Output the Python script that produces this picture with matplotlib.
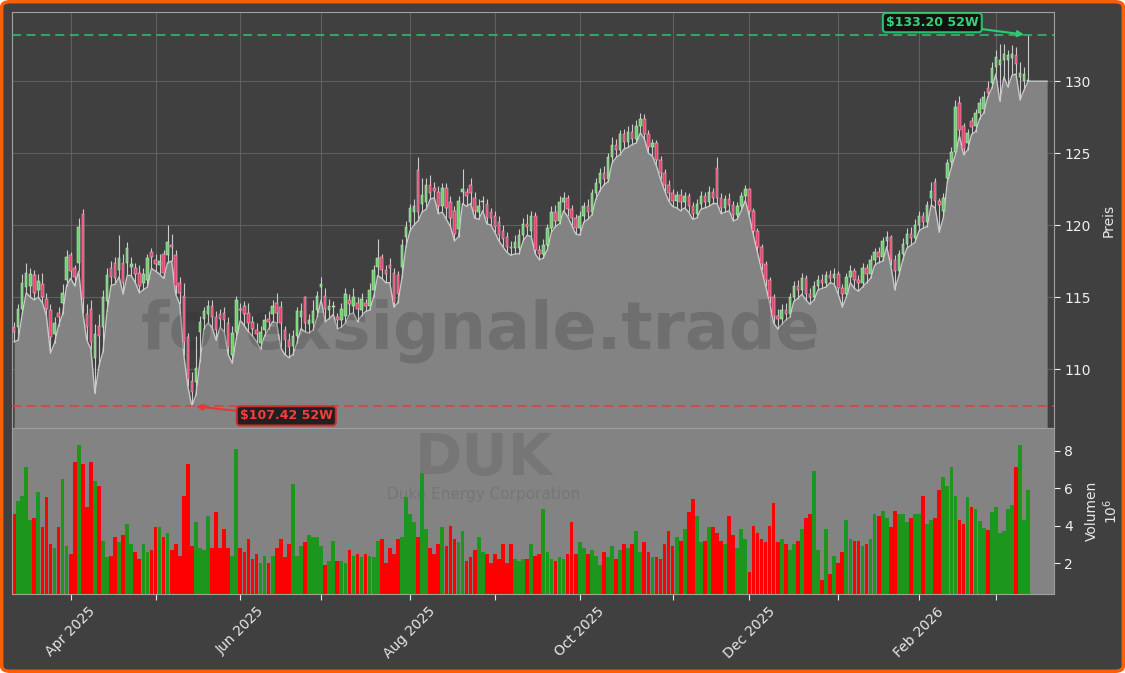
import numpy as np
import pandas as pd
import matplotlib
matplotlib.use('Agg')
import matplotlib.pyplot as plt
from matplotlib.patches import FancyBboxPatch

# daily OHLC (USD) and volume (millions), DUK, 52 weeks
opens = [
    112.9, 112.9, 114.2, 115.7, 115.8, 116.5, 115.5, 115.9, 114.9, 114.1,
    112.4, 113.9, 114.6, 116.2, 117.9, 117.0, 117.4, 120.8, 113.8, 114.2,
    110.8, 113.0, 112.9, 114.7, 117.0, 117.4, 116.9, 117.4, 117.4, 117.1,
    117.0, 116.7, 116.0, 116.2, 118.1, 117.6, 117.2, 118.0, 117.9, 118.6,
    117.9, 116.0, 115.1, 112.2, 109.2, 109.1, 112.6, 113.5, 113.8, 114.4,
    113.6, 113.8, 113.9, 113.2, 111.0, 112.6, 114.2, 114.4, 113.9, 113.3,
    112.7, 111.8, 112.7, 113.5, 113.8, 114.6, 114.3, 112.7, 112.0, 111.6,
    112.3, 113.6, 115.0, 113.1, 113.2, 114.1, 115.7, 115.1, 114.1, 114.3,
    113.6, 113.4, 113.7, 114.8, 114.4, 114.6, 114.1, 114.6, 114.4, 115.5,
    117.1, 117.8, 116.9, 117.2, 116.7, 116.5, 117.1, 119.2, 120.2, 120.9,
    123.8, 121.5, 121.6, 122.8, 122.6, 122.3, 121.3, 122.6, 121.6, 121.0,
    119.7, 122.3, 122.3, 122.8, 121.9, 120.9, 121.6, 121.5, 120.9, 120.6,
    120.2, 119.6, 119.2, 118.5, 118.4, 118.4, 119.3, 120.1, 119.6, 120.6,
    118.3, 118.0, 118.6, 119.8, 120.9, 120.3, 121.6, 121.9, 121.1, 120.5,
    119.8, 120.6, 121.3, 120.9, 122.2, 122.9, 123.6, 123.2, 124.7, 125.6,
    125.2, 126.3, 125.8, 126.5, 126.0, 126.9, 127.4, 126.3, 125.4, 125.7,
    124.5, 123.6, 122.8, 122.2, 121.7, 122.1, 121.6, 122.0, 121.3, 120.8,
    121.5, 122.0, 121.6, 122.3, 124.0, 121.9, 121.2, 121.8, 121.4, 120.7,
    121.3, 122.0, 122.5, 121.0, 119.6, 118.5, 117.3, 116.2, 115.0, 113.7,
    113.5, 114.1, 113.8, 115.0, 115.8, 115.5, 116.3, 115.2, 115.0, 115.8,
    116.2, 116.0, 116.5, 116.3, 116.6, 115.6, 115.2, 116.4, 116.8, 116.2,
    116.0, 117.0, 116.6, 117.6, 118.1, 117.8, 118.9, 119.2, 117.6, 116.8,
    118.0, 118.7, 119.4, 119.1, 120.0, 120.6, 120.2, 121.9, 123.0, 121.7,
    121.0, 123.3, 124.4, 125.1, 128.5, 126.9, 125.7, 127.2, 126.9, 127.8,
    128.1, 129.5, 129.9, 131.0, 131.1, 131.5, 131.5, 131.6, 131.8, 130.3,
    130.0, 130.0]

highs = [
    113.3, 114.5, 116.6, 117.4, 117.0, 116.9, 116.6, 116.7, 115.3, 114.5,
    113.6, 114.3, 115.9, 118.3, 118.1, 117.2, 120.5, 121.1, 114.5, 114.8,
    113.1, 113.8, 115.5, 117.0, 117.5, 117.8, 119.3, 118.0, 118.8, 117.8,
    117.4, 117.2, 117.0, 118.0, 118.4, 118.0, 118.0, 118.3, 120.0, 119.4,
    118.3, 116.4, 116.0, 112.5, 109.8, 112.3, 113.7, 114.3, 114.8, 114.8,
    114.0, 114.2, 114.3, 113.6, 113.0, 115.1, 114.6, 114.7, 114.6, 113.7,
    113.2, 113.0, 113.8, 114.0, 114.8, 115.3, 114.7, 113.0, 112.5, 112.7,
    114.3, 114.6, 115.1, 113.8, 114.8, 115.4, 116.4, 115.6, 114.9, 114.7,
    113.9, 114.6, 115.6, 115.2, 115.6, 115.0, 115.3, 114.9, 116.0, 117.2,
    119.0, 118.0, 117.2, 117.7, 117.0, 116.8, 119.0, 120.3, 121.5, 121.8,
    124.7, 123.3, 123.3, 123.5, 123.0, 122.7, 122.9, 122.9, 122.0, 121.3,
    122.0, 123.9, 122.6, 123.3, 122.3, 121.8, 122.0, 121.8, 121.2, 121.0,
    120.6, 120.0, 119.5, 118.9, 119.3, 119.7, 120.5, 120.8, 121.0, 120.9,
    118.6, 119.0, 120.1, 121.3, 121.4, 122.0, 122.3, 122.1, 121.4, 120.8,
    121.0, 121.6, 121.8, 122.5, 123.3, 124.0, 124.1, 125.0, 126.1, 126.0,
    126.6, 126.7, 126.9, 127.0, 127.3, 127.8, 127.7, 126.6, 126.0, 125.9,
    124.8, 123.9, 123.1, 122.5, 122.4, 122.5, 122.3, 122.2, 121.6, 121.8,
    122.4, 122.3, 122.7, 122.6, 124.7, 122.2, 122.1, 122.2, 121.7, 121.6,
    122.3, 122.8, 122.6, 121.2, 119.8, 118.7, 117.5, 116.4, 115.2, 114.2,
    114.5, 114.6, 115.3, 116.1, 116.2, 116.7, 116.5, 115.6, 116.1, 116.5,
    116.6, 116.8, 116.9, 117.0, 116.8, 115.9, 116.7, 117.2, 117.0, 116.5,
    117.4, 117.3, 117.9, 118.4, 118.5, 119.2, 119.6, 119.3, 117.9, 118.3,
    119.1, 119.8, 119.9, 120.4, 121.0, 120.9, 121.7, 123.0, 123.3, 121.9,
    122.2, 124.6, 125.4, 128.7, 129.0, 127.1, 126.7, 127.5, 128.1, 128.8,
    129.3, 130.0, 131.3, 132.2, 132.6, 132.6, 132.2, 132.5, 132.4, 131.3,
    131.0, 133.2]

lows = [
    111.9, 112.0, 113.8, 115.3, 115.0, 114.8, 115.0, 114.6, 113.7, 111.1,
    111.8, 113.0, 113.8, 115.8, 116.3, 115.8, 116.8, 113.9, 112.0, 111.4,
    108.3, 110.2, 111.2, 114.0, 115.8, 115.9, 116.4, 115.2, 116.5, 116.5,
    116.0, 115.3, 115.5, 115.7, 117.0, 116.8, 116.6, 116.3, 117.4, 117.5,
    115.2, 114.5, 111.0, 108.8, 107.42, 108.2, 110.5, 112.8, 113.2, 112.9,
    112.0, 112.9, 112.6, 111.0, 110.4, 112.1, 113.4, 113.0, 112.6, 112.3,
    111.9, 111.4, 112.3, 112.8, 113.3, 113.2, 111.5, 111.0, 110.8, 111.0,
    111.8, 112.8, 112.6, 112.5, 112.7, 113.6, 114.8, 113.3, 113.5, 113.8,
    112.8, 112.9, 113.2, 113.8, 113.9, 113.3, 113.7, 114.0, 114.1, 115.0,
    116.5, 116.3, 116.0, 116.0, 114.3, 114.6, 116.3, 118.5, 119.6, 120.0,
    120.3, 120.9, 121.1, 121.8, 121.9, 120.8, 120.9, 120.4, 119.9, 118.9,
    119.2, 121.5, 121.3, 121.5, 120.5, 120.4, 121.0, 120.1, 120.0, 119.5,
    118.9, 118.5, 118.1, 117.9, 118.0, 118.0, 118.9, 119.3, 119.2, 118.0,
    117.6, 117.7, 118.3, 119.5, 119.9, 120.1, 121.0, 120.6, 120.0, 119.4,
    119.3, 120.2, 120.4, 120.7, 121.8, 122.4, 122.8, 123.0, 124.3, 124.7,
    124.9, 125.3, 125.4, 125.6, 125.7, 126.4, 126.0, 125.0, 124.8, 124.1,
    123.2, 122.4, 121.7, 121.3, 121.2, 121.0, 121.2, 120.9, 120.4, 120.5,
    121.1, 121.2, 121.3, 121.5, 121.5, 120.8, 120.9, 121.0, 120.3, 120.4,
    121.0, 121.7, 120.6, 119.3, 118.1, 116.9, 115.8, 114.6, 113.2, 112.8,
    113.1, 113.4, 113.6, 114.7, 114.9, 115.2, 114.8, 114.5, 114.8, 115.5,
    115.6, 115.7, 116.0, 115.9, 115.2, 114.3, 115.0, 116.0, 115.6, 115.4,
    115.7, 116.0, 116.3, 117.2, 117.4, 117.5, 118.5, 117.2, 115.5, 116.5,
    117.6, 118.4, 118.6, 118.8, 119.6, 119.8, 119.9, 121.4, 121.2, 119.5,
    120.5, 123.0, 124.0, 124.9, 126.2, 124.9, 125.2, 126.3, 126.5, 127.4,
    127.8, 128.9, 129.5, 130.5, 128.6, 130.3, 129.6, 130.4, 130.5, 128.7,
    129.4, 130.0]

closes = [
    112.6, 114.2, 116.0, 116.7, 116.6, 115.3, 116.1, 115.0, 114.2, 112.2,
    113.2, 113.6, 115.3, 117.8, 116.8, 116.4, 119.9, 114.9, 112.9, 111.9,
    112.4, 112.3, 115.0, 116.5, 116.4, 116.3, 117.7, 116.0, 118.4, 117.3,
    116.6, 115.8, 116.6, 117.7, 117.8, 117.3, 117.5, 116.7, 118.8, 118.5,
    115.8, 115.3, 111.9, 109.3, 108.4, 110.1, 113.3, 114.0, 114.4, 113.6,
    112.7, 113.5, 113.4, 111.5, 112.5, 114.8, 114.1, 113.8, 113.2, 112.8,
    112.4, 112.6, 113.4, 113.3, 114.4, 113.9, 113.2, 112.0, 111.5, 112.3,
    114.0, 114.0, 113.2, 113.4, 114.0, 115.1, 115.9, 114.2, 114.4, 114.3,
    113.4, 114.2, 115.2, 114.5, 115.0, 114.2, 114.9, 114.4, 115.5, 116.9,
    117.7, 116.9, 116.6, 117.0, 114.6, 115.2, 118.6, 119.9, 121.2, 121.3,
    120.9, 122.1, 122.8, 122.2, 122.4, 121.3, 122.6, 121.2, 120.5, 119.4,
    121.7, 122.5, 122.0, 122.2, 121.0, 121.3, 121.6, 120.5, 120.5, 119.9,
    119.3, 119.0, 118.5, 118.4, 118.8, 119.3, 120.1, 119.9, 120.6, 118.3,
    118.0, 118.6, 119.8, 120.9, 120.3, 121.6, 121.9, 121.1, 120.5, 119.8,
    120.6, 121.3, 120.9, 122.2, 122.9, 123.6, 123.2, 124.7, 125.6, 125.2,
    126.3, 125.8, 126.5, 126.0, 126.9, 127.4, 126.3, 125.4, 125.7, 124.5,
    123.6, 122.8, 122.2, 121.7, 122.1, 121.6, 122.0, 121.3, 120.8, 121.5,
    122.0, 121.6, 122.3, 121.9, 121.9, 121.2, 121.8, 121.4, 120.7, 121.3,
    122.0, 122.5, 121.0, 119.6, 118.5, 117.3, 116.2, 115.0, 113.7, 113.5,
    114.1, 113.8, 115.0, 115.8, 115.5, 116.3, 115.2, 115.0, 115.8, 116.2,
    116.0, 116.5, 116.3, 116.6, 115.6, 115.2, 116.4, 116.8, 116.2, 116.0,
    117.0, 116.6, 117.6, 118.1, 117.8, 118.9, 119.2, 117.6, 116.8, 118.0,
    118.7, 119.4, 119.1, 120.0, 120.6, 120.2, 121.4, 122.4, 121.7, 121.4,
    121.9, 124.3, 125.1, 128.2, 126.6, 125.3, 126.4, 126.8, 127.8, 128.5,
    128.9, 129.2, 130.9, 131.7, 131.5, 131.9, 131.8, 131.9, 131.2, 130.6,
    130.5, 130.1]

volumes = [
    4.6, 5.3, 5.6, 7.1, 4.3, 4.4, 5.8, 3.9, 5.5, 3.0,
    2.8, 3.9, 6.5, 2.9, 2.5, 7.4, 8.3, 7.3, 5.0, 7.4,
    6.4, 6.1, 3.2, 2.3, 2.4, 3.4, 3.1, 3.5, 4.1, 3.0,
    2.6, 2.2, 3.0, 2.6, 2.7, 3.9, 3.9, 3.4, 3.6, 2.7,
    3.0, 2.4, 5.6, 7.3, 2.9, 4.2, 2.8, 2.7, 4.5, 2.8,
    4.7, 2.8, 3.8, 2.8, 2.4, 8.1, 2.8, 2.6, 3.3, 2.2,
    2.5, 2.0, 2.4, 2.0, 2.4, 2.8, 3.3, 2.3, 3.0, 6.2,
    2.4, 2.9, 3.1, 3.5, 3.4, 3.4, 2.9, 1.9, 2.1, 3.2,
    2.1, 2.1, 2.0, 2.7, 2.4, 2.5, 2.3, 2.5, 2.4, 2.3,
    3.2, 3.3, 2.0, 2.8, 2.5, 3.3, 3.4, 5.5, 4.6, 4.2,
    3.4, 6.8, 3.8, 2.8, 2.5, 3.0, 3.9, 2.9, 4.0, 3.3,
    3.1, 3.7, 2.1, 2.3, 2.7, 3.4, 2.6, 2.5, 2.0, 2.5,
    2.2, 3.0, 2.0, 3.0, 2.2, 2.1, 2.2, 2.2, 3.0, 2.4,
    2.5, 4.9, 2.6, 2.2, 2.1, 2.3, 2.2, 2.5, 4.2, 2.5,
    3.1, 2.8, 2.5, 2.7, 2.4, 1.9, 2.6, 2.3, 2.9, 2.2,
    2.7, 3.0, 2.8, 3.0, 3.7, 2.6, 3.1, 2.6, 2.3, 2.3,
    2.2, 3.0, 3.7, 2.9, 3.4, 3.2, 3.8, 4.7, 5.4, 4.5,
    3.1, 3.2, 3.9, 3.9, 3.6, 3.2, 3.0, 4.5, 3.5, 2.8,
    3.8, 3.3, 1.5, 4.0, 3.6, 3.3, 3.1, 4.0, 5.2, 3.1,
    3.3, 3.0, 2.7, 3.0, 3.2, 3.8, 4.4, 4.6, 6.9, 2.7,
    1.1, 3.8, 1.4, 2.4, 2.0, 2.6, 4.3, 3.3, 3.2, 3.2,
    2.9, 3.0, 3.3, 4.6, 4.5, 4.8, 4.4, 3.9, 4.8, 4.6,
    4.6, 4.2, 4.4, 4.6, 4.6, 5.6, 4.1, 4.3, 4.4, 5.9,
    6.6, 6.1, 7.1, 5.6, 4.3, 4.1, 5.5, 5.0, 4.9, 4.25,
    3.85, 3.75, 4.7, 5.0, 3.6, 3.7, 4.9, 5.1, 7.1, 8.3,
    4.3, 5.9]

holidays = ['2025-04-18', '2025-05-26', '2025-06-19', '2025-07-04', '2025-09-01',
            '2025-11-27', '2025-12-25', '2026-01-01', '2026-01-19', '2026-02-16']
ticker = 'DUK'
company = 'Duke Energy Corporation'

o = np.array(opens)
h = np.array(highs)
l = np.array(lows)
c = np.array(closes)
v = np.array(volumes)
n = len(c)
idx = np.arange(n)
up = c >= o

dates = pd.bdate_range('2025-03-12', periods=n, freq='C', holidays=holidays)
per = dates.to_period('M')
month_idx = [i for i in range(1, n) if per[i] != per[i - 1]]
month_lab = [dates[i].strftime('%b %Y') if dates[i].month % 2 == 0 else '' for i in month_idx]

hi = h.max()
lo = l.min()
i_hi = int(np.argmax(h))
i_lo = int(np.argmin(l))

bg = '#404040'
grey = '#838383'
xl = (-0.4, n + 5.4)
ybot = 105.9

fig = plt.figure(figsize=(11.25, 6.73), dpi=100)
fig.patch.set_facecolor('white')
fig.add_artist(FancyBboxPatch((0.0015, 0.0025), 0.997, 0.995,
                              boxstyle='round,pad=0,rounding_size=0.008',
                              transform=fig.transFigure, facecolor=bg,
                              edgecolor='#ff5e00', linewidth=2.5, zorder=-10))

ax = fig.add_axes([0.0111, 0.364, 0.9258, 0.618])
axv = fig.add_axes([0.0111, 0.1174, 0.9258, 0.2466])

# price panel
ax.set_facecolor(bg)
xf = np.append(idx, n + 3.7)
lf = np.append(l, l[-1])
ax.fill_between(xf, lf, ybot, color=grey, lw=0, zorder=1)
ax.plot(xf, lf, color='#c8c8c8', lw=1.0, zorder=2)

ax.text(0.449, 0.235, 'forexsignale.trade', transform=ax.transAxes,
        fontsize=47, fontweight='bold', color='#2a2a2a', alpha=0.22,
        ha='center', va='center', zorder=2.5)

ax.vlines(idx, l, h, color='#cccccc', lw=0.8, zorder=3)
ax.bar(idx, np.maximum(np.abs(c - o), 0.06), bottom=np.minimum(o, c), width=0.62,
       color=np.where(up, '#6ccf6c', '#e8436f'),
       edgecolor=np.where(up, '#d8f2d8', '#f6c6d4'),
       linewidth=0.35, zorder=4)

ax.axhline(hi, color='#2ecc71', ls=(0, (5, 3)), lw=1.3, alpha=0.8, zorder=5)
ax.axhline(lo, color='#e53935', ls=(0, (5, 3)), lw=1.3, alpha=0.8, zorder=5)

ax.annotate('\\$%.2f 52W' % hi, xy=(i_hi, hi), xytext=(-69, 9),
            textcoords='offset points', ha='center', va='center',
            fontsize=9, fontweight='bold', color='#34d27b', zorder=8,
            bbox=dict(boxstyle='round,pad=0.25', fc='#0d0d0d', ec='#2ecc71', lw=1.5, alpha=0.9),
            arrowprops=dict(arrowstyle='-|>', color='#2ecc71', lw=1.5,
                            mutation_scale=9, shrinkA=0, shrinkB=3))
ax.annotate('\\$%.2f 52W' % lo, xy=(i_lo, lo), xytext=(68, -7),
            textcoords='offset points', ha='center', va='center',
            fontsize=9, fontweight='bold', color='#ff3b3b', zorder=8,
            bbox=dict(boxstyle='round,pad=0.25', fc='#151515', ec='#d32f2f', lw=1.5, alpha=0.9),
            arrowprops=dict(arrowstyle='-|>', color='#e53935', lw=1.5,
                            mutation_scale=9, shrinkA=0, shrinkB=3))

ax.set_xlim(xl)
ax.set_ylim(ybot, 134.8)
ax.set_xticks(month_idx)
ax.set_yticks([110, 115, 120, 125, 130])
ax.grid(True, color='#6e6e6e', lw=0.8, alpha=0.7)
ax.set_axisbelow(True)
ax.yaxis.tick_right()
ax.yaxis.set_label_position('right')
ax.set_ylabel('Preis', color='#e8e8e8', fontsize=10, labelpad=8)
ax.tick_params(axis='y', colors='#f0f0f0', labelsize=10, length=4)
ax.tick_params(axis='x', length=0, labelbottom=False)
for s in ax.spines.values():
    s.set_color('#a0a0a0')

# volume panel
axv.set_facecolor(grey)
axv.bar(idx, v, width=0.92, color=np.where(up, '#1c961c', '#ff0000'), zorder=2)
axv.text(0.452, 0.81, ticker, transform=axv.transAxes, fontsize=41,
         fontweight='bold', color='#5a5a5a', alpha=0.3, ha='center', va='center', zorder=1)
axv.text(0.452, 0.6, company, transform=axv.transAxes, fontsize=11,
         color='#5a5a5a', alpha=0.3, ha='center', va='center', zorder=1)
axv.set_xlim(xl)
axv.set_ylim(0.35, 9.2)
axv.set_yticks([2, 4, 6, 8])
axv.yaxis.tick_right()
axv.yaxis.set_label_position('right')
axv.set_ylabel('Volumen\n$10^{6}$', color='#e8e8e8', fontsize=10, labelpad=8,
               multialignment='center')
axv.tick_params(axis='y', colors='#f0f0f0', labelsize=10, length=4)
axv.set_xticks(month_idx)
axv.set_xticklabels(month_lab, rotation=45, ha='center')
axv.tick_params(axis='x', colors='#e8e8e8', labelsize=10, length=4)
for s in axv.spines.values():
    s.set_color('#a0a0a0')

fig.savefig('out.png', dpi=100, facecolor=fig.get_facecolor())
